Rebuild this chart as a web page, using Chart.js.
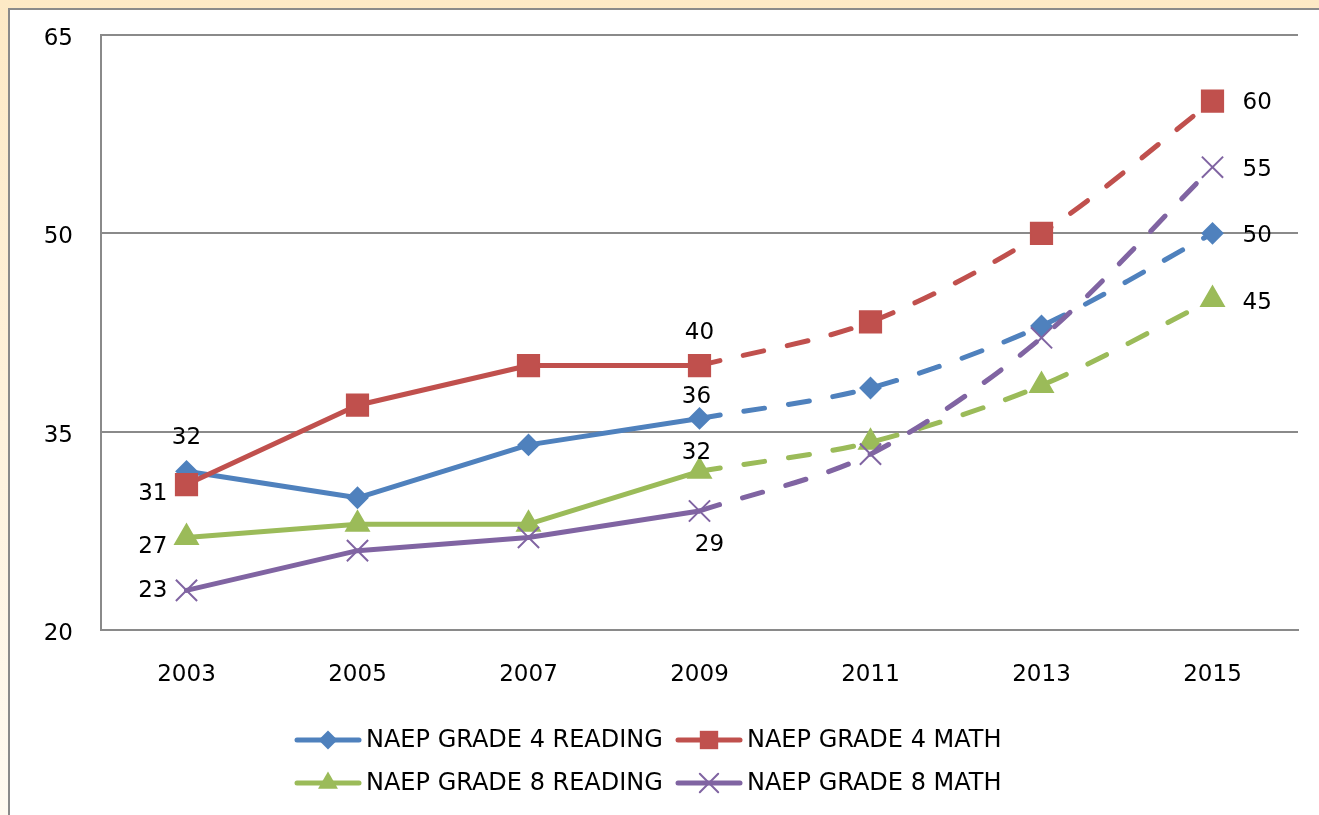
<!DOCTYPE html>
<html>
<head>
<meta charset="utf-8">
<title>NAEP goals</title>
<script src="https://cdn.jsdelivr.net/npm/chart.js@4/dist/chart.umd.min.js"></script>
<style>
  html, body { margin: 0; padding: 0; }
  body {
    width: 1319px; height: 815px; overflow: hidden; position: relative;
    background: linear-gradient(#fde9c5, #fffaf1);
  }
  #frame {
    position: absolute; left: 8px; top: 8px; width: 1400px; height: 900px;
    background: #fff; border-left: 2px solid #8a8a8a; border-top: 2px solid #8a8a8a;
  }
  #naepChart { position: absolute; left: 0; top: 0; }
</style>
</head>
<body>
<div id="frame"></div>
<canvas id="naepChart" width="1319" height="815"></canvas>
<script>
// data; 2011-2015 are projected (dashed)
const years = ['2003', '2005', '2007', '2009', '2011', '2013', '2015'];
const grade4Reading = [32, 30, 34, 36, 38.3, 43, 50];
const grade4Math = [31, 37, 40, 40, 43.3, 50, 60];
const grade8Reading = [27, 28, 28, 32, 34.2, 38.5, 45];
const grade8Math = [23, 26, 27, 29, 33.3, 42.1, 55];
const yTicks = [20, 35, 50, 65];

const seriesNames = ['NAEP GRADE 4 READING', 'NAEP GRADE 4 MATH', 'NAEP GRADE 8 READING', 'NAEP GRADE 8 MATH'];
const seriesValues = [grade4Reading, grade4Math, grade8Reading, grade8Math];
const seriesColors = ['#4f81bd', '#c0504d', '#9bbb59', '#8064a2'];
const seriesMarkers = ['rectRot', 'rect', 'triangle', 'crossRot'];
const markerRadius = [10, 15, 13, 15];

const lastActual = 3; // index of 2009
const FONT = 'DejaVu Sans';

function solidPart(arr) { return arr.map((v, i) => i <= lastActual ? v : null); }
function dashedPart(arr) { return arr.map((v, i) => i >= lastActual ? v : null); }

const datasets = [];
seriesValues.forEach((vals, s) => {
  const base = {
    label: seriesNames[s],
    borderColor: seriesColors[s],
    backgroundColor: seriesColors[s],
    pointBackgroundColor: seriesColors[s],
    pointBorderColor: seriesColors[s],
    pointStyle: seriesMarkers[s],
    pointBorderWidth: 2,
    borderWidth: 5,
    borderCapStyle: 'round',
    borderJoinStyle: 'round',
    clip: false,
    order: 10 - s
  };
  datasets.push(Object.assign({}, base, {
    data: solidPart(vals),
    tension: 0,
    pointRadius: markerRadius[s]
  }));
  datasets.push(Object.assign({}, base, {
    data: dashedPart(vals),
    tension: 0.3,
    borderDash: [21, 24],
    pointRadius: ctx => ctx.dataIndex === lastActual ? 0 : markerRadius[s]
  }));
});

// where each value label sits: [series, index, align, dx, dy]
const labelSpots = [
  [0, 0, 'center', 0, -33],
  [1, 0, 'right', -19, 9],
  [2, 0, 'right', -19, 10],
  [3, 0, 'right', -19, 1],
  [1, 3, 'center', 0, -33],
  [0, 3, 'center', -3, -21],
  [2, 3, 'center', -3, -18],
  [3, 3, 'center', 10, 34],
  [1, 6, 'left', 30, 2],
  [3, 6, 'left', 30, 3],
  [0, 6, 'left', 30, 3],
  [2, 6, 'left', 30, 4]
];

const valueLabels = {
  id: 'valueLabels',
  afterDatasetsDraw(chart) {
    const { ctx, scales } = chart;
    ctx.save();
    ctx.font = '23px "' + FONT + '"';
    ctx.fillStyle = '#000';
    ctx.textBaseline = 'middle';
    labelSpots.forEach(([s, i, align, dx, dy]) => {
      const v = seriesValues[s][i];
      ctx.textAlign = align;
      ctx.fillText(String(Math.round(v)), scales.x.getPixelForValue(i) + dx, scales.y.getPixelForValue(v) + dy);
    });
    ctx.restore();
  }
};

function drawMarker(ctx, style, x, y, r, color) {
  ctx.save();
  ctx.fillStyle = color;
  ctx.strokeStyle = color;
  ctx.lineWidth = 2;
  ctx.beginPath();
  if (style === 'rectRot') {
    ctx.moveTo(x - r, y); ctx.lineTo(x, y - r); ctx.lineTo(x + r, y); ctx.lineTo(x, y + r);
    ctx.closePath(); ctx.fill();
  } else if (style === 'rect') {
    const h = r * Math.SQRT1_2;
    ctx.rect(x - h, y - h, 2 * h, 2 * h); ctx.fill();
  } else if (style === 'triangle') {
    for (let k = 0; k < 3; k++) {
      const a = k * 2 * Math.PI / 3;
      const px = x + Math.sin(a) * r, py = y - Math.cos(a) * r;
      if (k === 0) ctx.moveTo(px, py); else ctx.lineTo(px, py);
    }
    ctx.closePath(); ctx.fill();
  } else {
    const h = r * Math.SQRT1_2;
    ctx.moveTo(x - h, y - h); ctx.lineTo(x + h, y + h);
    ctx.moveTo(x + h, y - h); ctx.lineTo(x - h, y + h);
    ctx.stroke();
  }
  ctx.restore();
}

// two-by-two legend like the original
const legendCols = [297, 678];
const legendRows = [740, 783];
const legendMarker = [9.5, 13, 11.5, 13];
const lineLegend = {
  id: 'lineLegend',
  afterDraw(chart) {
    const ctx = chart.ctx;
    ctx.save();
    ctx.font = '24px "' + FONT + '"';
    ctx.textBaseline = 'middle';
    ctx.textAlign = 'left';
    seriesNames.forEach((name, s) => {
      const x = legendCols[s % 2], y = legendRows[Math.floor(s / 2)];
      ctx.strokeStyle = seriesColors[s];
      ctx.lineWidth = 5;
      ctx.lineCap = 'round';
      ctx.beginPath();
      ctx.moveTo(x, y); ctx.lineTo(x + 62, y);
      ctx.stroke();
      drawMarker(ctx, seriesMarkers[s], x + 31, y, legendMarker[s], seriesColors[s]);
      ctx.fillStyle = '#000';
      ctx.fillText(name, x + 69, y + 1);
    });
    ctx.restore();
  }
};

new Chart(document.getElementById('naepChart'), {
  type: 'line',
  data: { labels: years, datasets: datasets },
  plugins: [valueLabels, lineLegend],
  options: {
    responsive: false,
    animation: false,
    layout: { padding: { top: 35, right: 21, bottom: 120, left: 0 } },
    plugins: {
      legend: { display: false },
      tooltip: { enabled: false }
    },
    scales: {
      x: {
        offset: true,
        grid: { display: false, drawTicks: false },
        border: { display: true, color: '#8a8a8a', width: 2 },
        ticks: { color: '#000', padding: 31, font: { family: FONT, size: 23 } },
        afterFit(scale) { scale.height = 65; }
      },
      y: {
        min: 20,
        max: 65,
        afterBuildTicks(scale) { scale.ticks = yTicks.map(v => ({ value: v })); },
        grid: { color: '#8a8a8a', lineWidth: 2, drawTicks: false },
        border: { display: true, color: '#8a8a8a', width: 2 },
        ticks: { color: '#000', padding: 28, labelOffset: 4, font: { family: FONT, size: 23 } },
        afterFit(scale) {
          scale.width = 101;
          scale.paddingTop = 0;
          scale.paddingBottom = 0;
        }
      }
    }
  }
});
</script>
</body>
</html>
